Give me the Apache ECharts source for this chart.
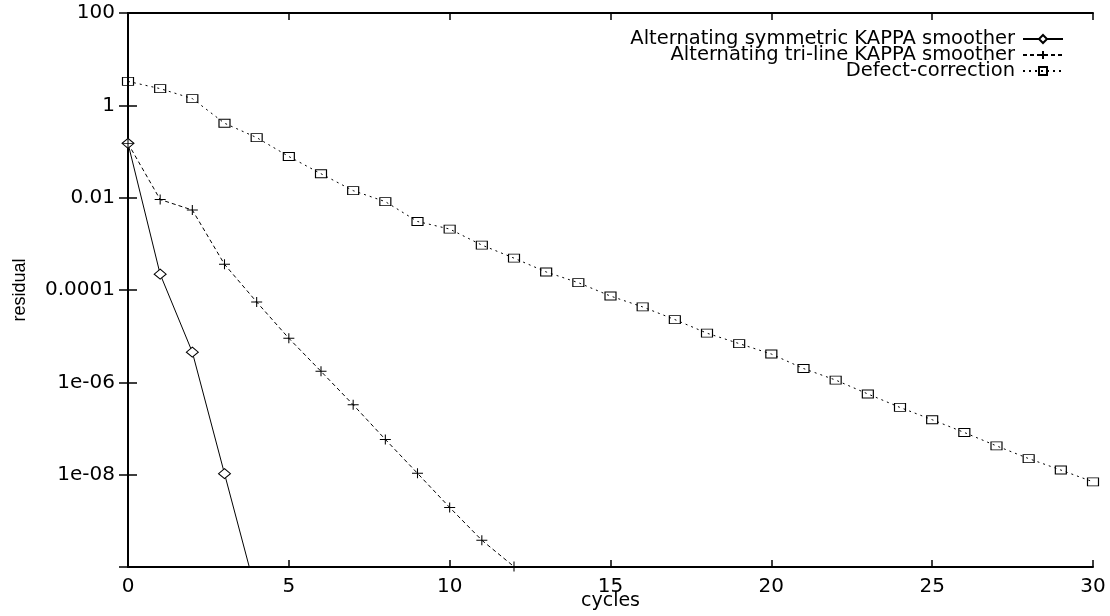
<!DOCTYPE html>
<html>
<head>
<meta charset="utf-8">
<script src="https://cdn.jsdelivr.net/npm/echarts@6/dist/echarts.min.js"></script>
<style>html,body{margin:0;padding:0;background:#fff;}#c{width:1110px;height:616px;}</style>
</head>
<body>
<div id="c"></div>
<script>
const seriesNames = ['Alternating symmetric KAPPA smoother', 'Alternating tri-line KAPPA smoother', 'Defect-correction'];
const cyclesSym = [0, 1, 2, 3, 4];
const symmetric = [0.15, 2.2e-4, 4.5e-6, 1.05e-8, 2.5e-11];
const cyclesTri = [0, 1, 2, 3, 4, 5, 6, 7, 8, 9, 10, 11, 12];
const triline = [0.15, 0.0091, 0.0054, 3.6e-4, 5.5e-5, 9.0e-6, 1.73e-6, 3.27e-7, 5.8e-8, 1.07e-8, 1.95e-9, 3.8e-10, 1.02e-10];
const cyclesDef = [0,1,2,3,4,5,6,7,8,9,10,11,12,13,14,15,16,17,18,19,20,21,22,23,24,25,26,27,28,29,30];
const defect = [3.3, 2.3, 1.4, 0.41, 0.20, 0.078, 0.033, 0.0142, 0.0082, 3.05e-3, 2.09e-3, 9.4e-4, 4.9e-4, 2.46e-4, 1.44e-4, 7.4e-5, 4.3e-5, 2.29e-5, 1.16e-5, 6.9e-6, 4.1e-6, 1.99e-6, 1.12e-6, 5.6e-7, 2.86e-7, 1.55e-7, 8.2e-8, 4.2e-8, 2.23e-8, 1.26e-8, 7.0e-9];
const yTickValues = [1e-10, 1e-8, 1e-6, 1e-4, 0.01, 1, 100];
const yTickLabels = ['', '1e-08', '1e-06', '0.0001', '0.01', '1', '100'];
const xName = 'cycles';
const yName = 'residual';

function yLabel(v) {
  const e = Math.round(Math.log10(v));
  for (let i = 0; i < yTickValues.length; i++) {
    if (Math.round(Math.log10(yTickValues[i])) === e) return yTickLabels[i];
  }
  return '';
}
function pairs(xs, ys) { return xs.map((x, i) => [x, ys[i]]); }

const axisLine = { show: true, lineStyle: { color: '#000', width: 2 } };
const tickFont = { fontFamily: 'DejaVu Sans', fontSize: 20, color: '#000' };

const chart = echarts.init(document.getElementById('c'), null, { renderer: 'canvas' });
chart.setOption({
  animation: false,
  backgroundColor: '#fff',
  grid: { left: 128, right: 17, top: 13, bottom: 49, containLabel: false, outerBoundsMode: 'none' },
  legend: {
    orient: 'vertical', right: 41, top: 24, align: 'right',
    itemWidth: 40, itemHeight: 10, itemGap: -4,
    textStyle: { fontFamily: 'DejaVu Sans', fontSize: 19.5, color: '#000', padding: [0, 3, 0, 0] },
    data: seriesNames
  },
  xAxis: [
    { type: 'value', min: 0, max: 30, interval: 5, position: 'bottom',
      name: xName, nameLocation: 'middle', nameGap: 25, nameMoveOverlap: false,
      nameTextStyle: { fontFamily: 'DejaVu Sans', fontSize: 19, color: '#000' },
      axisLine: axisLine, axisTick: { show: true, inside: true, length: 7, lineStyle: { color: '#000', width: 1.5 } },
      axisLabel: Object.assign({ margin: 10 }, tickFont), splitLine: { show: false } },
    { type: 'value', min: 0, max: 30, interval: 5, position: 'top',
      axisLine: axisLine, axisTick: { show: true, inside: true, length: 7, lineStyle: { color: '#000', width: 1.5 } },
      axisLabel: { show: false }, splitLine: { show: false } }
  ],
  yAxis: [
    { type: 'log', logBase: 10, min: 1e-10, max: 100, interval: 2, position: 'left',
      name: yName, nameLocation: 'middle', nameGap: 99, nameRotate: 90, nameMoveOverlap: false,
      nameTextStyle: { fontFamily: 'Liberation Sans', fontSize: 18, color: '#000' },
      axisLine: axisLine, axisTick: { show: true, inside: true, length: 9, lineStyle: { color: '#000', width: 1.5 } },
      axisLabel: Object.assign({ margin: 13, formatter: yLabel }, tickFont),
      minorTick: { show: false }, splitLine: { show: false } },
    { type: 'log', logBase: 10, min: 1e-10, max: 100, interval: 2, position: 'right',
      axisLine: axisLine, axisTick: { show: true, inside: true, length: 9, lineStyle: { color: '#000', width: 1.5 } },
      axisLabel: { show: false }, splitLine: { show: false } }
  ],
  series: [
    { name: seriesNames[0], type: 'line', data: pairs(cyclesSym, symmetric), clip: true,
      symbol: 'diamond', symbolSize: [12, 10], showAllSymbol: true,
      lineStyle: { color: '#000', width: 1, type: 'solid' },
      itemStyle: { color: '#fff', borderColor: '#000', borderWidth: 1 } },
    { name: seriesNames[1], type: 'line', data: pairs(cyclesTri, triline), clip: true,
      symbol: 'path://M0,5L10,5M5,0L5,10', symbolSize: [11, 10], showAllSymbol: true,
      lineStyle: { color: '#000', width: 1, type: [4, 3] },
      itemStyle: { color: 'transparent', borderColor: '#000', borderWidth: 1 } },
    { name: seriesNames[2], type: 'line', data: pairs(cyclesDef, defect), clip: true,
      symbol: 'rect', symbolSize: [11, 8], showAllSymbol: true,
      lineStyle: { color: '#000', width: 1, type: [2, 4] },
      itemStyle: { color: 'transparent', borderColor: '#000', borderWidth: 1 } }
  ]
});
</script>
</body>
</html>
